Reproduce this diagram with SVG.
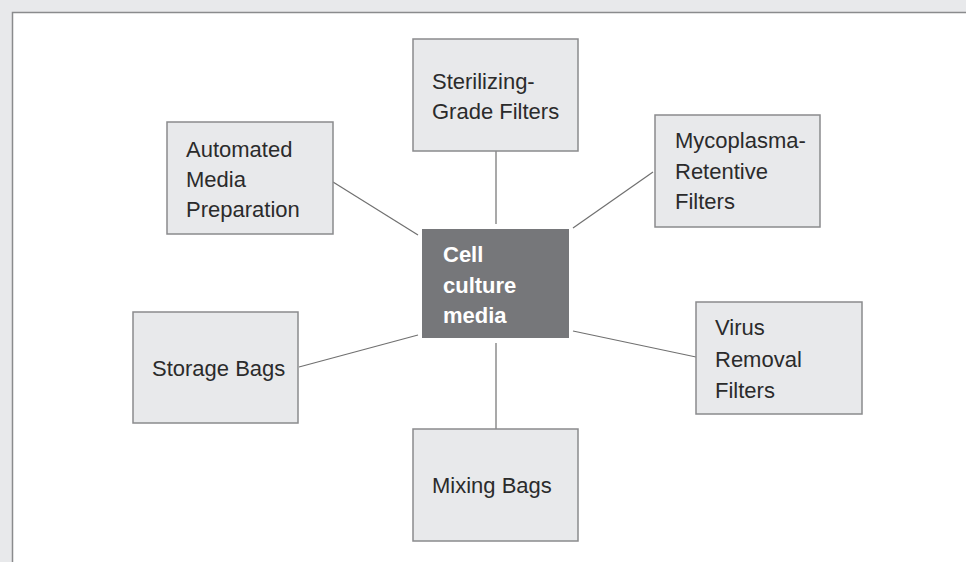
<svg xmlns="http://www.w3.org/2000/svg" width="966" height="562" viewBox="0 0 966 562">
<style>
.box{fill:#e8e9eb;stroke:#8a8b8d;stroke-width:1.5}
.ctr{fill:#76777a}
.t{font-family:"Liberation Sans",Arial,sans-serif;font-size:22px;fill:#2b2b2b}
.tc{font-family:"Liberation Sans",Arial,sans-serif;font-size:22px;font-weight:bold;fill:#ffffff}
.c{stroke:#707070;stroke-width:1.2;fill:none}
</style>
<rect x="0" y="0" width="966" height="562" fill="#e8e9eb"/>
<rect x="12.5" y="12.5" width="1000" height="600" fill="#ffffff" stroke="#8a8b8d" stroke-width="1.5"/>
<g id="connectors">
<line class="c" x1="496" y1="151" x2="496" y2="224"/>
<line class="c" x1="653" y1="172" x2="573" y2="228"/>
<line class="c" x1="573" y1="331" x2="696" y2="357"/>
<line class="c" x1="496" y1="343" x2="496" y2="429"/>
<line class="c" x1="299" y1="367" x2="418" y2="335"/>
<line class="c" x1="333" y1="182" x2="418" y2="235"/>
</g>
<g id="center">
<rect class="ctr" x="422" y="229" width="147" height="109"/>
<text class="tc" x="443" y="262">Cell</text>
<text class="tc" x="443" y="293">culture</text>
<text class="tc" x="443" y="323">media</text>
</g>
<g id="sterilizing">
<rect class="box" x="413" y="39" width="165" height="112"/>
<text class="t" x="432" y="89">Sterilizing-</text>
<text class="t" x="432" y="119">Grade Filters</text>
</g>
<g id="automated">
<rect class="box" x="167" y="122" width="166" height="112"/>
<text class="t" x="186" y="157">Automated</text>
<text class="t" x="186" y="187">Media</text>
<text class="t" x="186" y="217">Preparation</text>
</g>
<g id="mycoplasma">
<rect class="box" x="655" y="115" width="165" height="112"/>
<text class="t" x="675" y="148">Mycoplasma-</text>
<text class="t" x="675" y="179">Retentive</text>
<text class="t" x="675" y="209">Filters</text>
</g>
<g id="storage">
<rect class="box" x="133" y="312" width="165" height="111"/>
<text class="t" x="152" y="376">Storage Bags</text>
</g>
<g id="virus">
<rect class="box" x="696" y="302" width="166" height="112"/>
<text class="t" x="715" y="335">Virus</text>
<text class="t" x="715" y="367">Removal</text>
<text class="t" x="715" y="398">Filters</text>
</g>
<g id="mixing">
<rect class="box" x="413" y="429" width="165" height="112"/>
<text class="t" x="432" y="493">Mixing Bags</text>
</g>
</svg>
